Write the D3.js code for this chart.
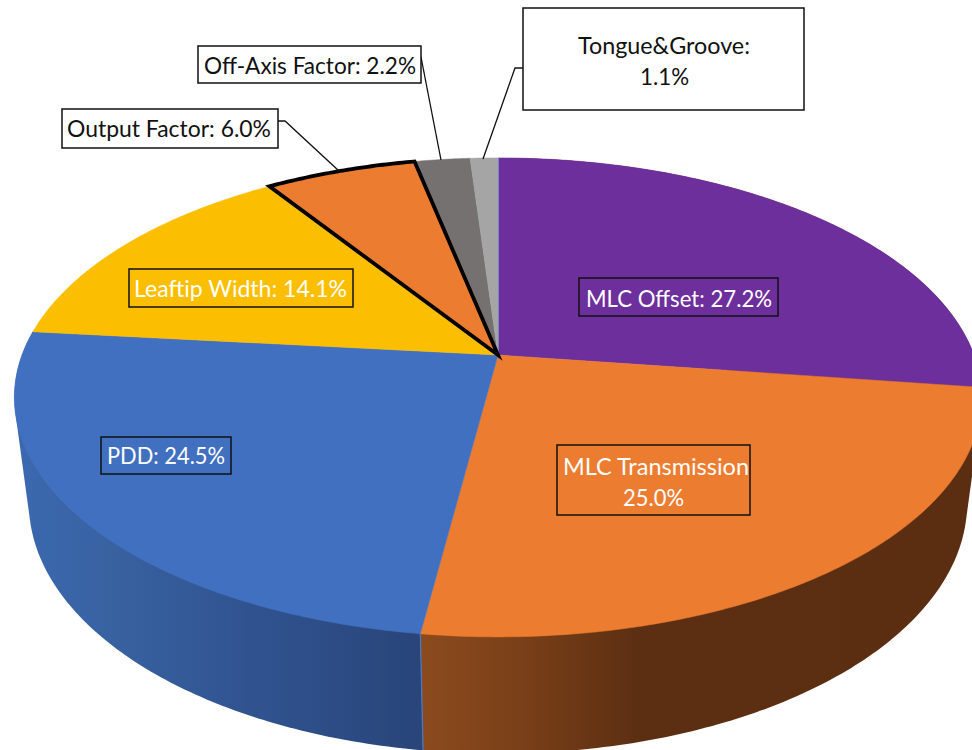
<!DOCTYPE html>
<html><head><meta charset="utf-8">
<script src="https://cdn.jsdelivr.net/npm/d3@7"></script>
<style>html,body{margin:0;padding:0;background:#fff}svg{display:block}</style>
</head><body><svg id="c" width="972" height="750"></svg>
<script>
// ---- data ----
const categories = ["MLC Offset","MLC Transmission","PDD","Leaftip Width","Output Factor","Off-Axis Factor","Tongue&Groove"];
const shares = [27.2,25.0,24.5,14.1,6.0,2.2,1.1];
const topColors = ["#6d2f9c","#ec7c30","#4170c0","#fbbe00","#ec7c30","#767171","#a5a5a5"];
const labelLines = [["MLC Offset: 27.2%"],["MLC Transmission","25.0%"],["PDD: 24.5%"],["Leaftip Width: 14.1%"],["Output Factor: 6.0%"],["Off-Axis Factor: 2.2%"],["Tongue&Groove:","1.1%"]];
const textColors = ["#fff","#fff","#fff","#fff","#111","#111","#111"];
// ---- layout ----
const boxes = [[579,278,778,316],[557,445,750,515],[101,437,231,474],[129,269,353,307],[62,109,278,148],[198,46,421,83],[523,8,804,110]];
const textExtents = [[[586,772,307]],[[563,749,475],[623,684,506]],[[107,225,464]],[[134,347,297]],[[67,271,137]],[[204,416,74]],[[578,750,54],[640,689,85]]];
const leaders = [null,null,null,null,[[278,121],[285,121],[339,171]],[[421,57],[441,160]],[[523,68],[515,68],[483,159]]];
const P={cx:498,cy:355,a:476,b:232,k:0.177,d:0.03,h:108};

const svg=d3.select("#c");
const arcs=d3.pie().sort(null).startAngle(0).endAngle(2*Math.PI)(shares);
const rim=t=>{const X=Math.sin(t),Y=-Math.cos(t),w=1-P.k*Y;return [P.cx+P.a*X/w,P.cy+P.b*Y/w];};
const base=t=>{const X=Math.sin(t),Y=-Math.cos(t),w=1-P.k*Y+P.d;return [P.cx+P.a*X/w,P.cy+(P.b*Y+P.h)/w];};
const line=d3.line();
const samples=(a,b,n)=>d3.range(n+1).map(i=>a+(b-a)*i/n);

// side wall: hull of the rim and floor of a slice, shaded left to right
const defs=svg.append("defs");
const wallShades=[
  {i:0,id:"wallPurple",x1:420,x2:972,stops:[[0,"#5c2e11"],[1,"#5c2e11"]]},
  {i:1,id:"wallOrange",x1:420,x2:972,stops:[[0,"#8c4a1e"],[0.18,"#7a4018"],[0.39,"#5d2f12"],[1,"#5c2e11"]]},
  {i:2,id:"wallBlue",x1:14,x2:420,stops:[[0,"#3b69b0"],[0.26,"#38619f"],[0.58,"#305390"],[1,"#29457a"]]}
];
wallShades.forEach(s=>{
  const g=defs.append("linearGradient").attr("id",s.id).attr("gradientUnits","userSpaceOnUse")
    .attr("x1",s.x1).attr("x2",s.x2).attr("y1",0).attr("y2",0);
  s.stops.forEach(([o,c])=>g.append("stop").attr("offset",o).attr("stop-color",c));
});
const wallGroup=svg.append("g");
wallShades.forEach(s=>{
  const a=arcs[s.i];
  const ts=samples(a.startAngle,a.endAngle,120);
  const hull=d3.polygonHull([...ts.map(rim),...ts.map(base)]);
  wallGroup.append("path").attr("d",line(hull)+"Z").attr("fill",`url(#${s.id})`);
});
// seam between blue and orange wall
wallGroup.append("path").attr("d",line([rim(arcs[1].endAngle),base(arcs[1].endAngle)])).attr("stroke","#4a78c4").attr("stroke-width",1.2).attr("fill","none");

// top face
const topGroup=svg.append("g");
const sector=a=>{
  const n=Math.max(8,Math.ceil((a.endAngle-a.startAngle)*100));
  return line([[P.cx,P.cy],...samples(a.startAngle,a.endAngle,n).map(rim)])+"Z";
};
arcs.forEach((a,i)=>{
  topGroup.append("path").attr("d",sector(a)).attr("fill",topColors[i]).attr("stroke",topColors[i]).attr("stroke-width",0.5);
});
// pale edge at the start of the first slice
topGroup.append("path").attr("d",line([[P.cx,P.cy],rim(0)])).attr("stroke","#8fa8c4").attr("stroke-width",1.2).attr("fill","none");
// highlighted slice
topGroup.append("path").attr("d",sector(arcs[4])).attr("fill",topColors[4]).attr("stroke","#000").attr("stroke-width",3.8).attr("stroke-linejoin","miter");

// leaders
svg.append("g").selectAll("path").data(leaders.filter(Boolean)).join("path")
  .attr("d",d=>line(d)).attr("fill","none").attr("stroke","#111").attr("stroke-width",1.3);

// labels
categories.forEach((c,i)=>{
  const g=svg.append("g");
  const [x0,y0,x1,y1]=boxes[i];
  g.append("rect").attr("x",x0).attr("y",y0).attr("width",x1-x0).attr("height",y1-y0)
    .attr("fill",i>=4?"#fff":"none").attr("stroke","#111").attr("stroke-width",1.5);
  labelLines[i].forEach((t,j)=>{
    const [tx0,tx1,ty]=textExtents[i][j];
    g.append("text").attr("x",tx0).attr("y",ty).attr("textLength",tx1-tx0).attr("lengthAdjust","spacingAndGlyphs")
      .attr("font-family","Lato").attr("font-size",23).attr("fill",textColors[i]).text(t);
  });
});
</script></body></html>
